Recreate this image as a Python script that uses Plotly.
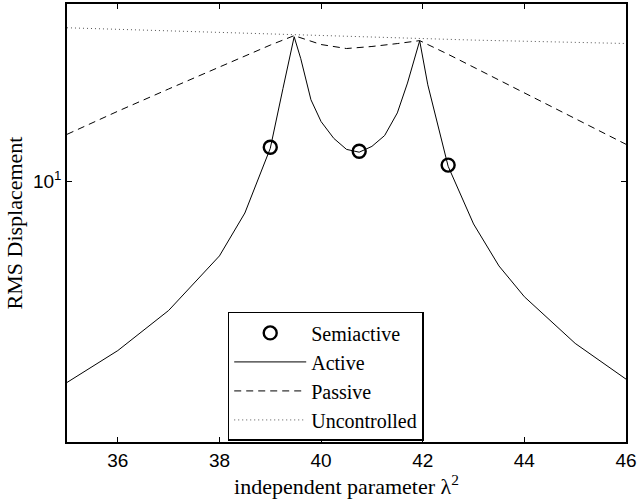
import plotly.graph_objects as go

# Semiactive design points
x_semi = [39.0, 40.75, 42.5]
semiactive = [12.37, 12.07, 11.08]

# Active control response
x_active = [35, 36, 37, 38, 38.5, 39, 39.25, 39.47, 39.6, 39.8, 40, 40.25, 40.5,
            40.75, 41, 41.25, 41.5, 41.7, 41.94, 42.1, 42.5, 43, 43.5, 44, 45, 46]
active = [2.89, 3.52, 4.51, 6.32, 8.24, 12.29, 17.8, 24.5, 21.4, 16.6, 14.5, 13.07, 12.21,
          12.0, 12.44, 13.3, 15.3, 18.4, 23.9, 18.2, 11.0, 7.70, 5.94, 4.91, 3.68, 2.95]

# Passive control response
x_passive = [35, 36, 37, 38, 38.5, 39, 39.47, 39.8, 40, 40.5, 41, 41.5, 41.94,
             42.5, 43, 44, 45, 46]
passive = [13.4, 15.46, 17.74, 20.34, 21.78, 23.27, 24.67, 23.78, 23.35, 22.78, 23.07,
           23.49, 23.92, 21.98, 20.30, 17.31, 14.77, 12.6]

# Uncontrolled response
x_unc = [35, 37, 39, 41, 43, 46]
uncontrolled = [25.9, 25.4, 24.9, 24.4, 24.0, 23.5]

x_ticks = [36, 38, 40, 42, 44, 46]
y_ticks = [10]
y_ticktext = ["10<sup>1</sup>"]

serif = "Liberation Serif, Times New Roman, serif"
sans = "Liberation Sans, Arial, sans-serif"

fig = go.Figure()
fig.add_trace(go.Scatter(
    x=x_semi, y=semiactive, mode="markers", name="Semiactive",
    marker=dict(symbol="circle-open", size=13, color="black", line=dict(width=2.4, color="black")),
))
fig.add_trace(go.Scatter(
    x=x_active, y=active, mode="lines", name="Active",
    line=dict(color="black", width=1),
))
fig.add_trace(go.Scatter(
    x=x_passive, y=passive, mode="lines", name="Passive",
    line=dict(color="black", width=1, dash="7px,5px"),
))
fig.add_trace(go.Scatter(
    x=x_unc, y=uncontrolled, mode="lines", name="Uncontrolled",
    line=dict(color="#555555", width=1, dash="1px,3px"),
))

axis_common = dict(
    showline=True, linecolor="black", linewidth=1.5, mirror="ticks",
    ticks="inside", ticklen=5, tickcolor="black", tickwidth=1,
    showgrid=False, zeroline=False,
    tickfont=dict(family=sans, size=19, color="black"),
)

fig.update_layout(
    width=642, height=503,
    margin=dict(l=67, r=16, t=2, b=61),
    paper_bgcolor="white", plot_bgcolor="white",
    showlegend=True,
    legend=dict(
        x=0.2875, y=0.297, xanchor="left", yanchor="top",
        bgcolor="white", bordercolor="black", borderwidth=1.5,
        font=dict(family=serif, size=20, color="black"),
        tracegroupgap=0, itemwidth=72,
    ),
    xaxis=dict(
        range=[35, 46], tickvals=x_ticks,
        title=dict(text="independent parameter λ<sup>2</sup>",
                   font=dict(family=serif, size=22, color="black"), standoff=2),
        **axis_common,
    ),
    yaxis=dict(
        type="log", range=[0.30103, 1.4771213], tickvals=y_ticks, ticktext=y_ticktext,
        title=dict(text="RMS Displacement",
                   font=dict(family=serif, size=22, color="black"), standoff=4),
        **axis_common,
    ),
)

fig.write_html("out.html")
